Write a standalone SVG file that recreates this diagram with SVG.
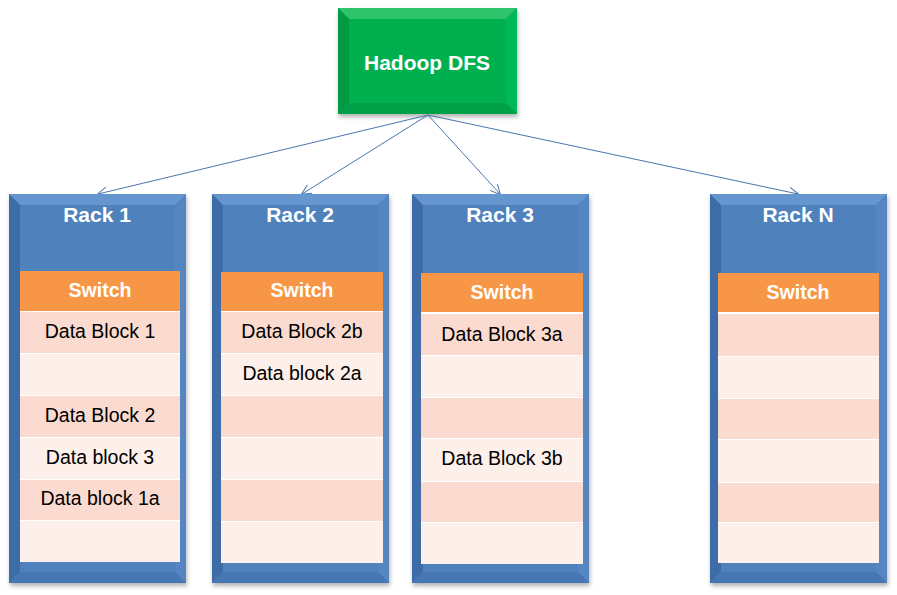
<svg xmlns="http://www.w3.org/2000/svg" xmlns:xlink="http://www.w3.org/1999/xlink" width="897" height="595" viewBox="0 0 897 595">
<style>
.title{font-family:"Liberation Sans",Arial,sans-serif;font-weight:bold;font-size:21px;fill:#ffffff;text-anchor:middle}
.sw{font-family:"Liberation Sans",Arial,sans-serif;font-weight:bold;font-size:19.5px;fill:#ffffff;text-anchor:middle}
.cell{font-family:"Liberation Sans",Arial,sans-serif;font-size:19.5px;fill:#000000;text-anchor:middle}
.swf{fill:#f79646}
.dk{fill:#fbdbcf}
.lt{fill:#fdefea}
.tbl{fill:#ffffff}
.conn{stroke:#4a76ad;stroke-width:1;fill:none;marker-end:url(#arr)}
</style>
<defs>
<marker id="arr" viewBox="0 0 10 10" refX="9.5" refY="5" markerWidth="10" markerHeight="10" markerUnits="userSpaceOnUse" orient="auto">
<path d="M0,0 L10,5 L0,10" fill="none" stroke="#4a76ad" stroke-width="1"/>
</marker>
<filter id="sh" x="-10%" y="-10%" width="120%" height="120%">
<feDropShadow dx="1" dy="3" stdDeviation="2" flood-color="#000000" flood-opacity="0.3"/>
</filter>
<g id="rackbody">
<rect x="0" y="0" width="177" height="389" fill="#4f81bd"/>
<polygon points="0,0 177,0 166,11 11,11" fill="#6696d0"/>
<polygon points="0,0 11,11 11,378 0,389" fill="#3e6ca6"/>
<polygon points="177,0 177,389 166,378 166,11" fill="#5586c2"/>
<polygon points="0,389 11,378 166,378 177,389" fill="#4677b3"/>
</g>
</defs>

<g id="hadoop">
<g filter="url(#sh)">
<rect x="338" y="8" width="179" height="106" fill="#00b050"/>
<polygon points="338,8 517,8 506,19 349,19" fill="#2fc46c"/>
<polygon points="338,8 349,19 349,103 338,114" fill="#009a44"/>
<polygon points="517,8 517,114 506,103 506,19" fill="#06b858"/>
<polygon points="338,114 349,103 506,103 517,114" fill="#00a049"/>
</g>
<text class="title" x="427" y="70">Hadoop DFS</text>
</g>

<g id="connectors">
<line class="conn" x1="428" y1="115" x2="98" y2="194"/>
<line class="conn" x1="428" y1="115" x2="302" y2="194"/>
<line class="conn" x1="428" y1="115" x2="500" y2="194"/>
<line class="conn" x1="428" y1="115" x2="798" y2="194"/>
</g>

<g id="rack1">
<use xlink:href="#rackbody" x="9" y="194" filter="url(#sh)"/>
<text class="title" x="97" y="222">Rack 1</text>
<rect class="tbl" x="20" y="271" width="160" height="291"/>
<rect class="swf" x="20" y="271" width="160" height="40"/>
<rect class="dk" x="20" y="312" width="160" height="41"/>
<rect class="lt" x="20" y="354" width="160" height="41"/>
<rect class="dk" x="20" y="396" width="160" height="41"/>
<rect class="lt" x="20" y="438" width="160" height="41"/>
<rect class="dk" x="20" y="480" width="160" height="40"/>
<rect class="lt" x="20" y="521" width="160" height="41"/>
<text class="sw" x="100" y="297">Switch</text>
<text class="cell" x="100" y="338">Data Block 1</text>
<text class="cell" x="100" y="422">Data Block 2</text>
<text class="cell" x="100" y="464">Data block 3</text>
<text class="cell" x="100" y="505">Data block 1a</text>
</g>

<g id="rack2">
<use xlink:href="#rackbody" x="212" y="194" filter="url(#sh)"/>
<text class="title" x="300" y="222">Rack 2</text>
<rect class="tbl" x="221" y="272" width="162" height="291"/>
<rect class="swf" x="221" y="272" width="162" height="39"/>
<rect class="dk" x="221" y="312" width="162" height="41"/>
<rect class="lt" x="221" y="354" width="162" height="41"/>
<rect class="dk" x="221" y="396" width="162" height="41"/>
<rect class="lt" x="221" y="438" width="162" height="41"/>
<rect class="dk" x="221" y="480" width="162" height="41"/>
<rect class="lt" x="221" y="522" width="162" height="41"/>
<text class="sw" x="302" y="297">Switch</text>
<text class="cell" x="302" y="338">Data Block 2b</text>
<text class="cell" x="302" y="380">Data block 2a</text>
</g>

<g id="rack3">
<use xlink:href="#rackbody" x="412" y="194" filter="url(#sh)"/>
<text class="title" x="500" y="222">Rack 3</text>
<rect class="tbl" x="421" y="273" width="162" height="291"/>
<rect class="swf" x="421" y="273" width="162" height="39"/>
<rect class="dk" x="421" y="314" width="162" height="41"/>
<rect class="lt" x="421" y="356" width="162" height="41"/>
<rect class="dk" x="421" y="398" width="162" height="40"/>
<rect class="lt" x="421" y="439" width="162" height="42"/>
<rect class="dk" x="421" y="482" width="162" height="40"/>
<rect class="lt" x="421" y="523" width="162" height="41"/>
<text class="sw" x="502" y="299">Switch</text>
<text class="cell" x="502" y="341">Data Block 3a</text>
<text class="cell" x="502" y="465">Data Block 3b</text>
</g>

<g id="rackN">
<use xlink:href="#rackbody" x="710" y="194" filter="url(#sh)"/>
<text class="title" x="798" y="222">Rack N</text>
<rect class="tbl" x="718" y="273" width="161" height="290"/>
<rect class="swf" x="718" y="273" width="161" height="39"/>
<rect class="dk" x="718" y="314" width="161" height="42"/>
<rect class="lt" x="718" y="357" width="161" height="41"/>
<rect class="dk" x="718" y="399" width="161" height="40"/>
<rect class="lt" x="718" y="440" width="161" height="42"/>
<rect class="dk" x="718" y="483" width="161" height="39"/>
<rect class="lt" x="718" y="523" width="161" height="40"/>
<text class="sw" x="798" y="299">Switch</text>
</g>
</svg>
